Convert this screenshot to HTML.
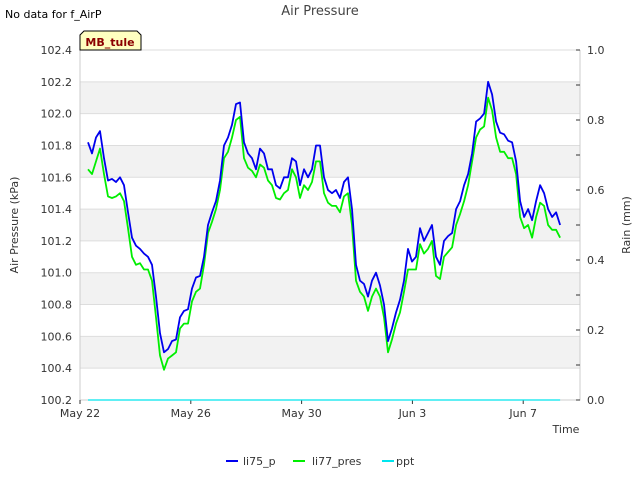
<!DOCTYPE html>
<html><head><meta charset="utf-8"><style>
body{margin:0;background:#fff;font-family:"Liberation Sans","DejaVu Sans",sans-serif;}
svg text{font-family:"DejaVu Sans","Liberation Sans",sans-serif;}
</style></head><body>
<svg id="chart" width="640" height="480" xmlns="http://www.w3.org/2000/svg">
<text x="5" y="18" font-size="11" fill="#000">No data for f_AirP</text>
<text x="320" y="15" font-size="13" fill="#444" text-anchor="middle">Air Pressure</text>
<g id="plot"></g>
<g>
<polygon points="84,31 137,31 141,35 141,50 80,50 80,35" fill="#ffffc0" stroke="#000" stroke-width="1"/>
<text x="110" y="46" font-size="11" font-weight="bold" fill="#8b0000" text-anchor="middle">MB_tule</text>
</g>
<text transform="translate(18,225) rotate(-90)" font-size="11" fill="#333" text-anchor="middle">Air Pressure (kPa)</text>
<text transform="translate(630,225) rotate(-90)" font-size="11" fill="#333" text-anchor="middle">Rain (mm)</text>
<text x="566" y="433" font-size="11" fill="#333" text-anchor="middle">Time</text>
<g font-size="11" fill="#333">
<g><line x1="226" y1="461" x2="238" y2="461" stroke="#0000ee" stroke-width="2"/><text x="243" y="465">li75_p</text></g>
<g><line x1="293" y1="461" x2="305" y2="461" stroke="#00ee00" stroke-width="2"/><text x="312" y="465">li77_pres</text></g>
<g><line x1="382" y1="461" x2="394" y2="461" stroke="#00e5ee" stroke-width="2"/><text x="396" y="465">ppt</text></g>
</g>
</svg>
<script>
const xTickLabels=["May 22","May 26","May 30","Jun 3","Jun 7"];
const xTickDays=[0,4,8,12,16];
const yTicks=[100.2,100.4,100.6,100.8,101.0,101.2,101.4,101.6,101.8,102.0,102.2,102.4];
const y2Ticks=[0.0,0.2,0.4,0.6,0.8,1.0];
const tStart=0.29, tEnd=17.33;
const li75_p=[101.82,101.75,101.85,101.89,101.72,101.58,101.59,101.57,101.60,
101.55,101.38,101.22,101.17,101.15,101.12,101.10,101.05,100.85,100.62,100.50,100.52,100.57,100.58,100.72,100.76,100.77,100.90,100.97,100.98,101.10,101.30,101.38,101.45,101.58,101.80,101.85,101.93,102.06,102.07,101.82,101.75,101.72,101.65,101.78,101.75,101.65,101.65,101.55,101.53,101.60,101.60,101.72,101.70,101.55,101.65,101.60,101.65,101.80,101.80,101.60,101.52,101.50,101.52,101.47,101.57,101.60,101.40,101.05,100.95,100.93,100.85,100.95,101.00,100.92,100.80,100.57,100.65,100.75,100.83,100.95,101.15,101.07,101.10,101.28,101.20,101.25,101.30,101.10,101.05,101.20,101.23,101.25,101.40,101.45,101.55,101.62,101.75,101.95,101.97,102.00,102.20,102.12,101.95,101.88,101.87,101.83,101.82,101.70,101.45,101.35,101.40,101.33,101.45,101.55,101.50,101.40,101.35,101.38,101.30];
const li77_pres=[101.65,101.62,101.70,101.78,101.62,101.48,101.47,101.48,101.50,
101.45,101.28,101.10,101.05,101.06,101.02,101.02,100.95,100.72,100.48,100.39,100.46,100.48,100.50,100.65,100.68,100.68,100.82,100.88,100.90,101.05,101.25,101.32,101.40,101.52,101.72,101.76,101.85,101.96,101.98,101.72,101.66,101.64,101.60,101.68,101.66,101.58,101.55,101.47,101.46,101.50,101.52,101.65,101.60,101.47,101.55,101.52,101.57,101.70,101.70,101.50,101.44,101.42,101.42,101.38,101.48,101.50,101.30,100.95,100.88,100.85,100.76,100.85,100.90,100.85,100.72,100.50,100.58,100.68,100.75,100.88,101.02,101.02,101.02,101.18,101.12,101.15,101.20,100.98,100.96,101.10,101.13,101.16,101.30,101.37,101.45,101.55,101.70,101.85,101.90,101.92,102.10,102.02,101.85,101.76,101.76,101.72,101.72,101.62,101.35,101.28,101.30,101.22,101.35,101.44,101.42,101.30,101.27,101.27,101.22];
const pptStart=0.29, pptEnd=17.33;
const ppt=[0,0];

const L=80,R=580,T=50,B=400;
const xS=d=>L+d*(R-L)/18.05;
const yS=p=>B-(p-100.2)*(B-T)/2.2;
const y2S=v=>B-v*(B-T);
const NS="http://www.w3.org/2000/svg";
const g=document.getElementById('plot');
function mk(tag,attrs){const e=document.createElementNS(NS,tag);for(const k in attrs)e.setAttribute(k,attrs[k]);g.appendChild(e);return e;}
for(let i=0;i<yTicks.length-1;i++){
 if(i%2===1){const r=mk('rect',{x:L,y:yS(yTicks[i+1]),width:R-L,height:yS(yTicks[i])-yS(yTicks[i+1]),fill:'#f2f2f2'});
 
 }
}
yTicks.forEach(v=>{
 const l=mk('line',{x1:L,x2:R,y1:yS(v),y2:yS(v),stroke:'#ddd','stroke-width':1});
 
 
 const t=mk('text',{x:L-8,y:yS(v)+4,'font-size':11,fill:'#333','text-anchor':'end'});t.textContent=v.toFixed(1);
 
 
});
const ax=mk('path',{d:`M${L},${T}V${B}H${R}V${T}`,fill:'none',stroke:'#ccc','stroke-width':1});


for(let v=0;v<=10;v++){
 const yy=y2S(v/10);
 const tk=mk('line',{x1:R-4,x2:R,y1:yy,y2:yy,stroke:'#333'});
 
 
}
y2Ticks.forEach(v=>{
 const t=mk('text',{x:R+7,y:y2S(v)+4,'font-size':11,fill:'#333'});t.textContent=v.toFixed(1);
 
 
});
xTickDays.forEach((d,i)=>{
 const tk=mk('line',{x1:xS(d),x2:xS(d),y1:B,y2:B+4,stroke:'#333'});
 
 
 const t=mk('text',{x:xS(d),y:B+17,'font-size':11,fill:'#333','text-anchor':'middle'});t.textContent=xTickLabels[i];
 
 
});
function series(vals,t0,t1,scale,color,name,w){
 const n=vals.length;
 const pts=vals.map((v,i)=>xS(t0+i*(t1-t0)/(n-1)).toFixed(1)+','+scale(v).toFixed(1)).join(' ');
 const p=mk('polyline',{points:pts,fill:'none',stroke:color,'stroke-width':w,'stroke-linejoin':'round'});
 
 
}
series(ppt,pptStart,pptEnd,y2S,'#00e5ee','ppt-line',1.2);
series(li77_pres,tStart,tEnd,yS,'#00ee00','li77-pres-line',1.8);
series(li75_p,tStart,tEnd,yS,'#0000ee','li75-p-line',1.8);
</script>
</body></html>
